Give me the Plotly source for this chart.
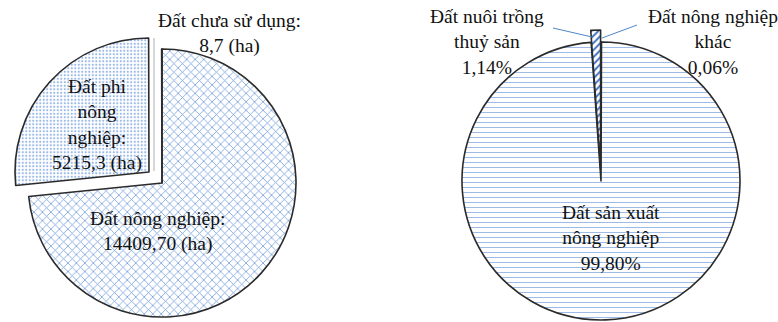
import plotly.graph_objects as go

W, H = 778, 322

# ---- data ----
left_labels = ["Đất nông nghiệp", "Đất phi nông nghiệp", "Đất chưa sử dụng"]
left_values = [14409.70, 5215.3, 8.7]
left_texts = ["Đất nông nghiệp:<br>14409,70 (ha)",
              "Đất phi<br>nông<br>nghiệp:<br>5215,3 (ha)",
              "Đất chưa sử dụng:<br>8,7 (ha)"]

right_labels = ["Đất nông nghiệp khác", "Đất sản xuất nông nghiệp", "Đất nuôi trồng thuỷ sản"]
right_values = [0.06, 99.80, 1.14]
right_texts = ["Đất nông nghiệp<br>khác<br>0,06%",
               "Đất sản xuất<br>nông nghiệp<br>99,80%",
               "Đất nuôi trồng<br>thuỷ sản<br>1,14%"]


def px(x):
    return x / W


def py(y):
    return 1 - y / H


def dom(cx, cy, r):
    return dict(x=[px(cx - r), px(cx + r)], y=[py(cy + r), py(cy - r)])


T = "rgba(0,0,0,0)"
EDGE = "#2b2b2b"
fig = go.Figure()


def add_pie(labels, values, domain, visible, shapes, fgs, sizes, sols):
    fig.add_trace(go.Pie(
        labels=labels, values=values, sort=False, direction="clockwise",
        rotation=0, textinfo="none", hoverinfo="label+value",
        domain=domain, showlegend=False,
        marker=dict(
            colors=["white" if v else T for v in visible],
            line=dict(color=EDGE, width=[1.6 if v else 0 for v in visible]),
            pattern=dict(
                shape=[s if v else "" for s, v in zip(shapes, visible)],
                fgcolor=fgs,
                bgcolor=["white" if v else T for v in visible],
                size=sizes, solidity=sols, fillmode="replace"),
        ),
    ))


LFG = ["#6f9ad8", "#9ab9e6", "#6f9ad8"]
LSZ = [6, 3.5, 6]
LSO = [0.24, 0.3, 0.24]
RFG = ["#9dbbe6", "#9dbbe6", "#3f73c0"]
RSZ = [5, 5, 5]
RSO = [0.2, 0.2, 0.4]

# left pie: main and pulled-out slice
add_pie(left_labels, left_values, dom(162, 183, 134), [True, False, True],
        ["x", ".", ""], LFG, LSZ, LSO)
add_pie(left_labels, left_values, dom(149, 172, 134), [False, True, False],
        ["x", ".", ""], LFG, LSZ, LSO)

# right pie: main and pulled-out wedge
add_pie(right_labels, right_values, dom(601, 181, 139), [True, True, False],
        ["-", "-", "/"], RFG, RSZ, RSO)
add_pie(right_labels, right_values, dom(600.6, 169, 139), [False, False, True],
        ["-", "-", "/"], RFG, RSZ, RSO)

font = dict(family="Liberation Serif, Times New Roman, serif", size=19.5, color="#111")
label_pos = {
    left_texts[0]: (157, 231), left_texts[1]: (97, 125), left_texts[2]: (230, 33),
    right_texts[0]: (713, 42), right_texts[1]: (611, 238), right_texts[2]: (487, 42),
}
for t, (x, y) in label_pos.items():
    fig.add_annotation(text=t, x=px(x), y=py(y), xref="paper", yref="paper",
                       xanchor="center", yanchor="middle", showarrow=False, font=font)

shapes = [
    dict(type="line", xref="paper", yref="paper", x0=px(553), y0=py(28), x1=px(592), y1=py(37),
         line=dict(color="#4f86c6", width=1)),
    dict(type="line", xref="paper", yref="paper", x0=px(602), y0=py(38), x1=px(637), y1=py(25),
         line=dict(color="#4f86c6", width=1)),
    dict(type="line", xref="paper", yref="paper", x0=px(154), y0=py(38), x1=px(154), y1=py(171),
         line=dict(color="#d6d6d6", width=2), layer="below"),
]

fig.update_layout(width=W, height=H, margin=dict(l=0, r=0, t=0, b=0),
                  paper_bgcolor="white", plot_bgcolor="white", shapes=shapes)
fig.write_html("out.html")
